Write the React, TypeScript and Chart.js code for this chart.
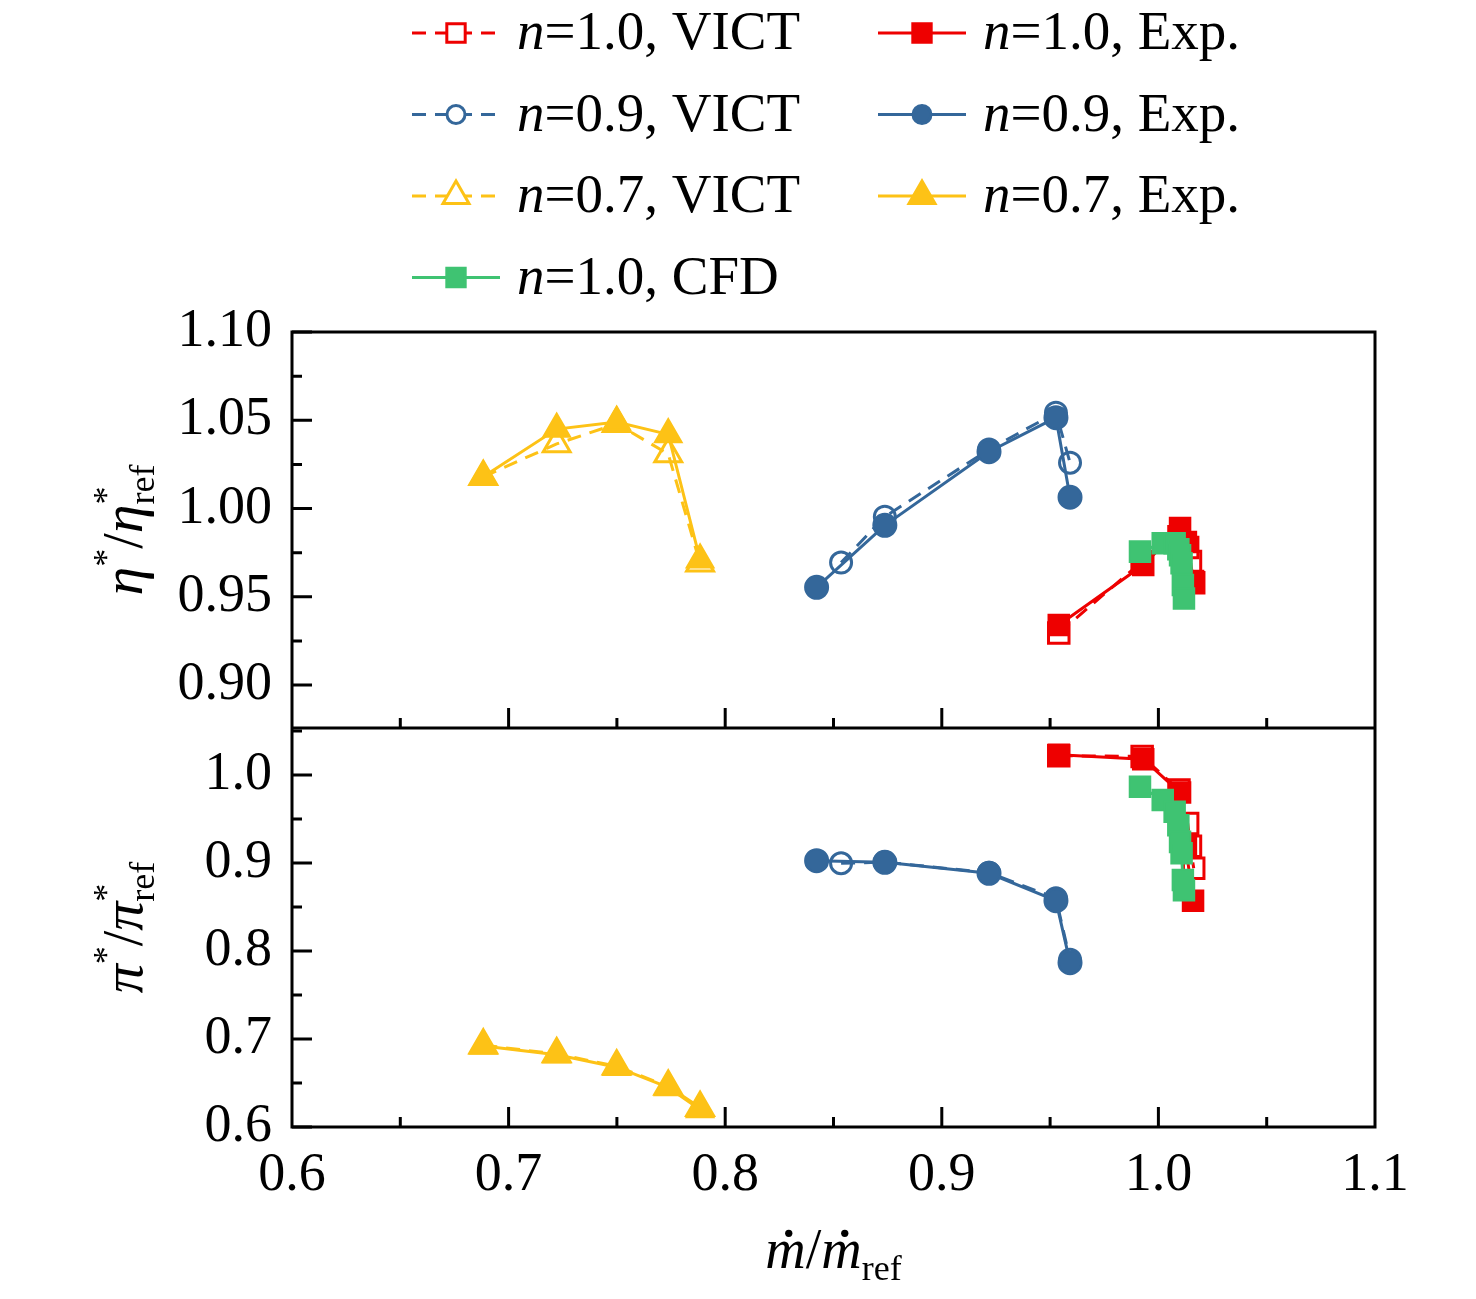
import { useEffect, useRef } from "react";
import { Chart, registerables } from "chart.js";

Chart.register(...registerables);

// tick labels
const flowTicks = [0.6, 0.7, 0.8, 0.9, 1.0, 1.1];
const etaTicks = [0.9, 0.95, 1.0, 1.05, 1.1];
const piTicks = [0.6, 0.7, 0.8, 0.9, 1.0];

// n = 1.0
const n10VictFlow = [0.954, 0.9925, 1.0095, 1.0135, 1.0148, 1.0163];
const n10VictEta = [0.9295, 0.970, 0.984, 0.978, 0.970, 0.958];
const n10VictPi = [1.022, 1.021, 0.983, 0.945, 0.919, 0.894];
const n10ExpFlow = [0.954, 0.993, 1.010, 1.0127, 1.016];
const n10ExpEta = [0.934, 0.968, 0.989, 0.981, 0.959];
const n10ExpPi = [1.023, 1.018, 0.980, 0.918, 0.857];
const n10CfdFlow = [0.9915, 1.002, 1.0075, 1.0092, 1.01, 1.0107, 1.0113, 1.0118];
const n10CfdEta = [0.9756, 0.9803, 0.9803, 0.977, 0.9735, 0.969, 0.9567, 0.949];
const n10CfdPi = [0.9867, 0.9716, 0.9583, 0.943, 0.924, 0.911, 0.8807, 0.869];

// n = 0.9
const n09VictFlow = [0.8535, 0.8737, 0.9218, 0.9527, 0.9592];
const n09VictEta = [0.9694, 0.9954, 1.0335, 1.0543, 1.026];
const n09VictPi = [0.8997, 0.901, 0.889, 0.86, 0.79];
const n09ExpFlow = [0.8422, 0.8737, 0.9218, 0.9527, 0.9592];
const n09ExpEta = [0.9554, 0.9905, 1.0322, 1.0515, 1.0064];
const n09ExpPi = [0.9026, 0.9008, 0.8883, 0.8572, 0.7867];

// n = 0.7
const n07VictFlow = [0.6883, 0.7222, 0.7499, 0.7737, 0.7884];
const n07VictEta = [1.018, 1.0366, 1.048, 1.0309, 0.969];
const n07VictPi = [0.693, 0.683, 0.669, 0.646, 0.622];
const n07ExpFlow = [0.6883, 0.7222, 0.7499, 0.7737, 0.7884];
const n07ExpEta = [1.018, 1.045, 1.049, 1.042, 0.971];
const n07ExpPi = [0.692, 0.682, 0.668, 0.645, 0.62];

const RED = "#EE0000";
const BLUE = "#34679A";
const YELLOW = "#FDC216";
const GREEN = "#3FC372";
const FONT = '"Liberation Serif", "Times New Roman", serif';

type Series = {
  label: string;
  color: string;
  shape: "rect" | "circle" | "triangle";
  hollow: boolean;
  dashed: boolean;
  order: number;
};

const sVict10: Series = { label: "=1.0, VICT", color: RED, shape: "rect", hollow: true, dashed: true, order: 2 };
const sExp10: Series = { label: "=1.0, Exp.", color: RED, shape: "rect", hollow: false, dashed: false, order: 1 };
const sVict09: Series = { label: "=0.9, VICT", color: BLUE, shape: "circle", hollow: true, dashed: true, order: 2 };
const sExp09: Series = { label: "=0.9, Exp.", color: BLUE, shape: "circle", hollow: false, dashed: false, order: 1 };
const sVict07: Series = { label: "=0.7, VICT", color: YELLOW, shape: "triangle", hollow: true, dashed: true, order: 2 };
const sExp07: Series = { label: "=0.7, Exp.", color: YELLOW, shape: "triangle", hollow: false, dashed: false, order: 1 };
const sCfd10: Series = { label: "=1.0, CFD", color: GREEN, shape: "rect", hollow: false, dashed: false, order: 0 };

const pts = (xs: number[], ys: number[]) => xs.map((x, i) => ({ x, y: ys[i] }));

const markerRadius = (s: Series) =>
  s.shape === "rect" ? 14.5 : s.shape === "triangle" ? 15.5 : s.hollow ? 10.5 : 11.5;

const mk = (s: Series, xs: number[], ys: number[], axis: string) => ({
  label: s.label,
  data: pts(xs, ys),
  yAxisID: axis,
  showLine: true,
  order: s.order,
  borderColor: s.color,
  borderWidth: 3,
  borderDash: s.dashed ? [14, 9] : [],
  tension: 0,
  pointStyle: s.shape,
  pointRadius: markerRadius(s),
  pointBackgroundColor: s.hollow ? "rgba(0,0,0,0)" : s.color,
  pointBorderColor: s.color,
  pointBorderWidth: s.hollow ? 3 : 2,
});

type Part = { t: string; size?: number; it?: boolean; dy?: number; back?: boolean; dot?: boolean };

function drawRich(ctx: CanvasRenderingContext2D, parts: Part[], x: number, y: number, center: boolean) {
  const widths: number[] = [];
  let total = 0;
  let prevW = 0;
  parts.forEach((p) => {
    ctx.font = `${p.it ? "italic " : ""}${p.size ?? 55}px ${FONT}`;
    const w = ctx.measureText(p.t).width;
    widths.push(w);
    if (p.back) total += Math.max(0, w - prevW);
    else total += w;
    prevW = w;
  });
  let cx = center ? x - total / 2 : x;
  let lastX = cx;
  parts.forEach((p, i) => {
    const size = p.size ?? 55;
    ctx.font = `${p.it ? "italic " : ""}${size}px ${FONT}`;
    if (p.back) cx = lastX;
    ctx.fillText(p.t, cx, y + (p.dy ?? 0));
    if (p.dot) {
      ctx.beginPath();
      ctx.arc(cx + widths[i] * 0.58, y - size * 0.62, size * 0.065, 0, Math.PI * 2);
      ctx.fill();
    }
    lastX = cx;
    cx += widths[i];
  });
}

const legendRows: [Series, Series | null][] = [
  [sVict10, sExp10],
  [sVict09, sExp09],
  [sVict07, sExp07],
  [sCfd10, null],
];

function drawLegendItem(ctx: CanvasRenderingContext2D, s: Series, x0: number, y: number) {
  ctx.save();
  ctx.strokeStyle = s.color;
  ctx.lineWidth = 3;
  ctx.setLineDash(s.dashed ? [14, 9] : []);
  ctx.beginPath();
  ctx.moveTo(x0, y);
  ctx.lineTo(x0 + 88, y);
  ctx.stroke();
  ctx.setLineDash([]);
  const r = s.shape === "rect" ? 13 : s.shape === "triangle" ? 15 : 9;
  const cx = x0 + 44;
  ctx.fillStyle = s.color;
  ctx.beginPath();
  if (s.shape === "rect") {
    const h = r * Math.SQRT1_2;
    ctx.rect(cx - h, y - h, 2 * h, 2 * h);
  } else if (s.shape === "circle") {
    ctx.arc(cx, y, r, 0, Math.PI * 2);
  } else {
    ctx.moveTo(cx, y - r);
    ctx.lineTo(cx + r * 0.866, y + r / 2);
    ctx.lineTo(cx - r * 0.866, y + r / 2);
    ctx.closePath();
  }
  if (s.hollow) ctx.fillStyle = "#fff";
  ctx.fill();
  ctx.stroke();
  ctx.restore();
  ctx.fillStyle = "#000";
  ctx.textBaseline = "alphabetic";
  ctx.textAlign = "left";
  drawRich(ctx, [{ t: "n", it: true }, { t: s.label }], x0 + 105, y + 16, false);
}

const decorPlugin = {
  id: "decor",
  afterDraw(chart: Chart) {
    const ctx = chart.ctx;
    const a = chart.chartArea;
    const x = chart.scales.x;
    const yTop = chart.scales.yTop;
    const yBot = chart.scales.yBot;
    ctx.save();
    ctx.strokeStyle = "#000";
    ctx.lineWidth = 3;
    ctx.strokeRect(a.left, a.top, a.right - a.left, a.bottom - a.top);
    ctx.beginPath();
    ctx.moveTo(a.left, yTop.bottom);
    ctx.lineTo(a.right, yTop.bottom);
    ctx.stroke();

    ctx.beginPath();
    // inward y ticks, major and minor
    const yTick = (sc: any, step: number) => {
      const half = step / 2;
      const start = Math.ceil((sc.min - 1e-9) / half);
      const end = Math.floor((sc.max + 1e-9) / half);
      for (let k = start; k <= end; k++) {
        const py = sc.getPixelForValue(k * half);
        ctx.moveTo(a.left, py);
        ctx.lineTo(a.left + (k % 2 === 0 ? 20 : 10), py);
      }
    };
    yTick(yTop, 0.05);
    yTick(yBot, 0.1);
    // inward x ticks at the bottom of both panels
    [yTop.bottom, yBot.bottom].forEach((base) => {
      for (let k = 12; k <= 22; k++) {
        const px = x.getPixelForValue(k * 0.05);
        if (px <= a.left + 1 || px >= a.right - 1) continue;
        ctx.moveTo(px, base);
        ctx.lineTo(px, base - (k % 2 === 0 ? 20 : 10));
      }
    });
    ctx.stroke();

    // legend
    legendRows.forEach((row, i) => {
      const y = 33 + i * 81.5;
      drawLegendItem(ctx, row[0], 412, y);
      if (row[1]) drawLegendItem(ctx, row[1], 878, y);
    });

    // axis titles
    ctx.fillStyle = "#000";
    ctx.textAlign = "left";
    ctx.textBaseline = "alphabetic";
    const yTitle = (g: string, cy: number) => {
      ctx.save();
      ctx.translate(142, cy);
      ctx.rotate(-Math.PI / 2);
      drawRich(
        ctx,
        [
          { t: g, it: true, size: 58 },
          { t: "*", size: 36, dy: -24 },
          { t: "/", size: 56 },
          { t: g, it: true, size: 58 },
          { t: "*", size: 36, dy: -24 },
          { t: "ref", size: 36, dy: 12, back: true },
        ],
        0,
        0,
        true
      );
      ctx.restore();
    };
    yTitle("η", (yTop.top + yTop.bottom) / 2);
    yTitle("π", (yBot.top + yBot.bottom) / 2);
    drawRich(
      ctx,
      [
        { t: "m", it: true, size: 56, dot: true },
        { t: "/", size: 56 },
        { t: "m", it: true, size: 56, dot: true },
        { t: "ref", size: 36, dy: 12 },
      ],
      (a.left + a.right) / 2,
      1268,
      true
    );
    ctx.restore();
  },
};

const tickFont = { family: FONT, size: 54 };

export default function App() {
  const canvasRef = useRef<HTMLCanvasElement | null>(null);

  useEffect(() => {
    document.body.style.margin = "0";
    if (!canvasRef.current) return;
    const ctx = canvasRef.current.getContext("2d");
    if (!ctx) return;

    const chart = new Chart(ctx, {
      type: "scatter",
      data: {
        datasets: [
          mk(sVict10, n10VictFlow, n10VictEta, "yTop"),
          mk(sVict09, n09VictFlow, n09VictEta, "yTop"),
          mk(sVict07, n07VictFlow, n07VictEta, "yTop"),
          mk(sExp10, n10ExpFlow, n10ExpEta, "yTop"),
          mk(sExp09, n09ExpFlow, n09ExpEta, "yTop"),
          mk(sExp07, n07ExpFlow, n07ExpEta, "yTop"),
          mk(sCfd10, n10CfdFlow, n10CfdEta, "yTop"),
          mk(sVict10, n10VictFlow, n10VictPi, "yBot"),
          mk(sVict09, n09VictFlow, n09VictPi, "yBot"),
          mk(sVict07, n07VictFlow, n07VictPi, "yBot"),
          mk(sExp10, n10ExpFlow, n10ExpPi, "yBot"),
          mk(sExp09, n09ExpFlow, n09ExpPi, "yBot"),
          mk(sExp07, n07ExpFlow, n07ExpPi, "yBot"),
          mk(sCfd10, n10CfdFlow, n10CfdPi, "yBot"),
        ] as any,
      },
      options: {
        animation: false,
        responsive: false,
        devicePixelRatio: 1,
        layout: { padding: { top: 332, right: 101, left: 0, bottom: 0 } },
        plugins: { legend: { display: false }, tooltip: { enabled: false } },
        scales: {
          x: {
            type: "linear",
            position: "bottom",
            min: 0.6,
            max: 1.1,
            grid: { display: false, drawTicks: false },
            border: { display: false },
            ticks: {
              font: tickFont,
              color: "#000",
              padding: 16,
              autoSkip: false,
              maxRotation: 0,
              callback: (v: any) => Number(v).toFixed(1),
            },
            afterBuildTicks: (s: any) => {
              s.ticks = flowTicks.map((v) => ({ value: v }));
            },
            afterFit: (s: any) => {
              s.height = 172;
            },
          },
          yBot: {
            type: "linear",
            position: "left",
            stack: "panels",
            stackWeight: 399,
            min: 0.6,
            max: 1.0534,
            grid: { display: false, drawTicks: false },
            border: { display: false },
            ticks: {
              font: tickFont,
              color: "#000",
              padding: 20,
              autoSkip: false,
              callback: (v: any) => Number(v).toFixed(1),
            },
            afterBuildTicks: (s: any) => {
              s.ticks = piTicks.map((v) => ({ value: v }));
            },
            afterFit: (s: any) => {
              s.width = 292;
            },
          },
          yTop: {
            type: "linear",
            position: "left",
            stack: "panels",
            stackWeight: 396,
            min: 0.8757,
            max: 1.1,
            grid: { display: false, drawTicks: false },
            border: { display: false },
            ticks: {
              font: tickFont,
              color: "#000",
              padding: 20,
              autoSkip: false,
              callback: (v: any) => Number(v).toFixed(2),
            },
            afterBuildTicks: (s: any) => {
              s.ticks = etaTicks.map((v) => ({ value: v }));
            },
            afterFit: (s: any) => {
              s.width = 292;
            },
          },
        } as any,
      },
      plugins: [decorPlugin as any],
    });

    return () => chart.destroy();
  }, []);

  return (
    <div style={{ width: 1476, height: 1299, background: "#fff" }}>
      <canvas ref={canvasRef} width={1476} height={1299} />
    </div>
  );
}
